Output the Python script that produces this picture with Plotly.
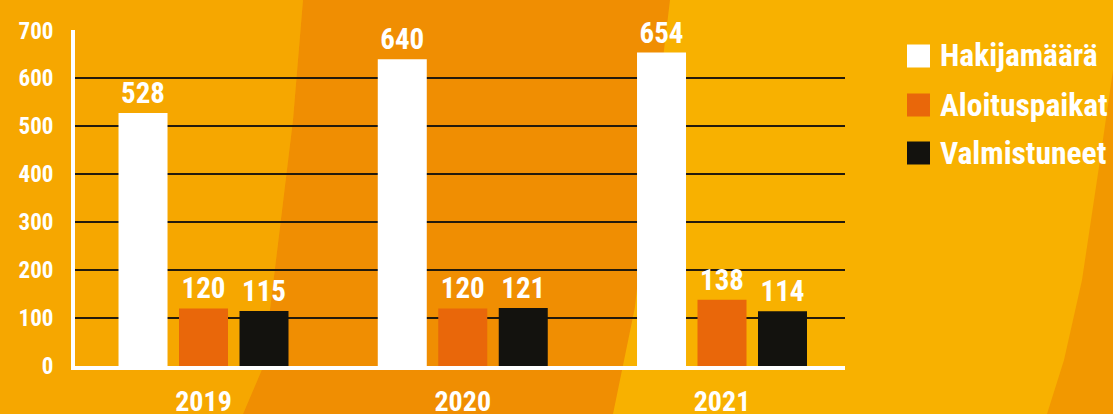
import plotly.graph_objects as go

# ---- data ----
years = ["2019", "2020", "2021"]
series_names = ["Hakijamäärä", "Aloituspaikat", "Valmistuneet"]
hakijamaara = [528, 640, 654]
aloituspaikat = [120, 120, 138]
valmistuneet = [115, 121, 114]
y_ticks = [0, 100, 200, 300, 400, 500, 600, 700]

series_values = [hakijamaara, aloituspaikat, valmistuneet]
colors = ["#FFFFFF", "#E9670A", "#13120E"]

FONT = "Roboto Condensed, Open Sans Condensed, sans-serif"

# ---- geometry (pixels) ----
W, H = 1113, 414
L, R, T, B = 75, 845, 30, 366


def px(x):
    return (x - L) / (R - L)


def py(y):
    return (B - y) / (B - T)


def path(points):
    return "M " + " L ".join(f"{px(x):.5f},{py(y):.5f}" for x, y in points) + " Z"


fig = go.Figure()
for name, vals, col in zip(series_names, series_values, colors):
    fig.add_trace(go.Bar(
        x=years, y=vals, name=name, marker=dict(color=col, line=dict(width=0)),
        text=[str(v) for v in vals], textposition="outside",
        textfont=dict(family=FONT, size=29, color="white", weight="bold"),
        constraintext="none", cliponaxis=False, showlegend=False,
    ))

shapes = []
# background regions
bg_left = "#F6A700"
bg_band = "#F08E02"
bg_right = "#F8B100"
bg_far = "#F29800"
shapes.append(dict(type="path", xref="paper", yref="paper", layer="below", line=dict(width=0),
                   fillcolor=bg_left,
                   path=path([(0, 0), (303, 0), (293, 120), (263, 367), (243, 414), (0, 414)])))
shapes.append(dict(type="path", xref="paper", yref="paper", layer="below", line=dict(width=0),
                   fillcolor=bg_band,
                   path=path([(303, 0), (670, 0), (652, 150), (635, 307), (613, 414), (243, 414),
                              (263, 367), (293, 120)])))
shapes.append(dict(type="path", xref="paper", yref="paper", layer="below", line=dict(width=0),
                   fillcolor=bg_far,
                   path=path([(1113, 70), (1113, 414), (1047, 414), (1064, 360), (1082, 280),
                              (1100, 160)])))

# custom legend
annotations = []
row_centers = [56, 105, 153]
for name, col, yc in zip(series_names, colors, row_centers):
    shapes.append(dict(type="rect", xref="paper", yref="paper", layer="above",
                       x0=px(907), x1=px(930), y0=py(yc + 11.5), y1=py(yc - 11.5),
                       fillcolor=col, line=dict(width=0)))
    annotations.append(dict(text=name, x=px(938), y=py(yc), xref="paper", yref="paper",
                            xanchor="left", yanchor="middle", showarrow=False,
                            font=dict(family=FONT, size=31.5, color="white", weight="bold")))

fig.update_layout(
    width=W, height=H, autosize=False,
    margin=dict(l=L, r=W - R, t=T, b=H - B, pad=0, autoexpand=False),
    paper_bgcolor=bg_right, plot_bgcolor="rgba(0,0,0,0)",
    barmode="group", bargap=0.30, bargroupgap=0.19,
    shapes=shapes, annotations=annotations, showlegend=False,
    xaxis=dict(type="category", range=[-0.4957, 2.4744], showline=True, linecolor="white",
               linewidth=4, showgrid=False, zeroline=False, ticks="", automargin=False,
               tickfont=dict(family=FONT, size=28, color="white", weight="bold"),
               ticklabelstandoff=7),
    yaxis=dict(range=[0, 701], tickvals=y_ticks, showgrid=True, gridcolor="#231a0c",
               gridwidth=1.6, showline=True, linecolor="white", linewidth=4, zeroline=False,
               ticks="", automargin=False,
               tickfont=dict(family=FONT, size=23, color="white", weight="bold"),
               ticklabelstandoff=13),
)

fig.write_html("out.html", config={"displayModeBar": False},
               post_script="document.body.style.margin='0';")
